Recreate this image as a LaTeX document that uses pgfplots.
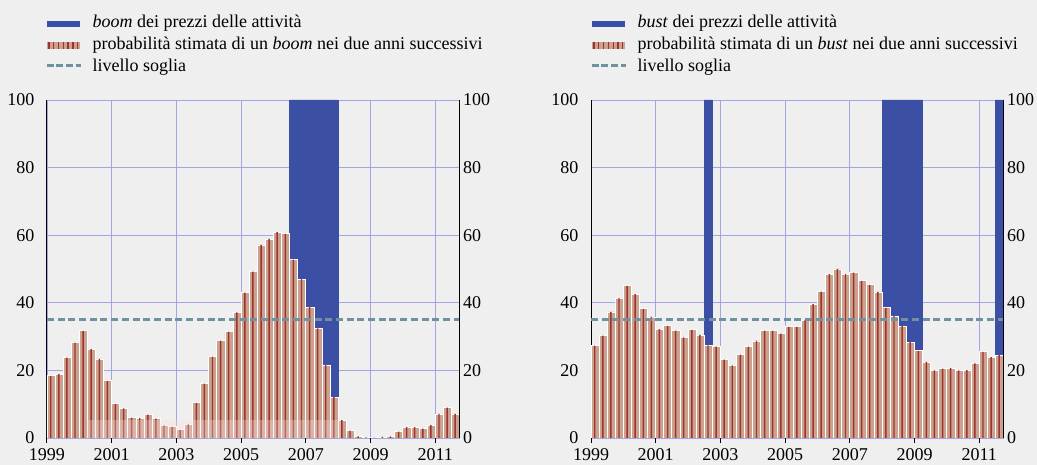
\documentclass[border=0pt]{standalone}
\usepackage{fontspec}
\setmainfont{Liberation Serif}
\usepackage{pgfplots}
\usepackage{pgfplotstable}
\pgfplotsset{compat=1.18}
\definecolor{bgc}{RGB}{239,239,239}
\definecolor{gridc}{RGB}{162,166,224}
\definecolor{bluec}{RGB}{59,80,165}
\definecolor{tanc}{RGB}{203,162,145}
\definecolor{redc}{RGB}{158,52,40}
\definecolor{threshc}{RGB}{112,145,160}
\definecolor{ghostc}{RGB}{250,222,222}

\pgfplotstableread{
x y
1999.125 18.4
1999.375 18.9
1999.625 23.8
1999.875 28.2
2000.125 31.7
2000.375 26.3
2000.625 23.4
2000.875 16.9
2001.125 10.1
2001.375 8.8
2001.625 6.0
2001.875 5.9
2002.125 6.9
2002.375 5.7
2002.625 3.7
2002.875 3.3
2003.125 2.4
2003.375 4.0
2003.625 10.4
2003.875 16.1
2004.125 24.1
2004.375 28.8
2004.625 31.5
2004.875 37.2
2005.125 43.0
2005.375 49.2
2005.625 57.1
2005.875 58.9
2006.125 60.9
2006.375 60.4
2006.625 52.8
2006.875 47.0
2007.125 38.7
2007.375 32.4
2007.625 21.6
2007.875 12.1
2008.125 5.3
2008.375 2.2
2008.625 0.5
2008.875 0.2
2009.125 0.1
2009.375 0.3
2009.625 0.5
2009.875 1.9
2010.125 3.2
2010.375 3.2
2010.625 2.8
2010.875 3.8
2011.125 7.1
2011.375 9.0
2011.625 7.1
}\boomprob

\pgfplotstableread{
x y
2006.625 100
2006.875 100
2007.125 100
2007.375 100
2007.625 100
2007.875 100
}\boomevent

\pgfplotstableread{
x y
1999.125 27.3
1999.375 30.3
1999.625 37.3
1999.875 41.4
2000.125 45.0
2000.375 42.6
2000.625 38.2
2000.875 35.8
2001.125 32.2
2001.375 33.2
2001.625 31.8
2001.875 29.8
2002.125 32.0
2002.375 30.5
2002.625 27.4
2002.875 27.0
2003.125 23.2
2003.375 21.5
2003.625 24.7
2003.875 27.0
2004.125 28.7
2004.375 31.8
2004.625 31.8
2004.875 30.9
2005.125 32.9
2005.375 32.9
2005.625 34.9
2005.875 39.6
2006.125 43.3
2006.375 48.5
2006.625 50.0
2006.875 48.5
2007.125 48.9
2007.375 46.5
2007.625 45.3
2007.875 43.2
2008.125 38.5
2008.375 36.1
2008.625 33.1
2008.875 28.4
2009.125 25.8
2009.375 22.5
2009.625 20.0
2009.875 20.5
2010.125 20.7
2010.375 20.0
2010.625 20.1
2010.875 22.1
2011.125 25.5
2011.375 23.9
2011.625 24.5
}\bustprob

\pgfplotstableread{
x y
2002.625 100
2008.125 100
2008.375 100
2008.625 100
2008.875 100
2009.125 100
2011.625 100
}\bustevent

\pgfplotsset{
  panel/.style={
    scale only axis, width=412.5pt, height=338pt, anchor=south west,
    xmin=1999, xmax=2011.75, ymin=0, ymax=100,
    xtick={1999,2001,...,2011}, ytick={0,20,...,100},
    /pgf/number format/assume math mode=true,
    x tick label style={/pgf/number format/1000 sep=, yshift=-2pt},
    tick label style={font=\fontsize{18}{20}\selectfont},
    axis line style={-, black, line width=1pt},
    ytick style={draw=none},
  },
  mainpanel/.style={panel,
    axis x line*=bottom, axis y line*=left,
    grid=major, grid style={gridc, line width=0.9pt},
    xtick style={black, line width=1pt},
    tick align=outside, major tick length=5pt,
    yticklabel style={xshift=-4pt},
    legend cell align=left,
    legend style={anchor=north west, draw=none, fill=none,
      font=\fontsize{18}{21}\selectfont, row sep=0pt, inner sep=0pt,
      column sep=0pt,
      nodes={inner sep=0pt, text height=14.5pt, text depth=7.5pt}},
  },
  rightpanel/.style={panel, axis y line*=right, hide x axis},
  evt/.style={ybar, bar shift=0pt, bar width=0.25, fill=bluec, draw=bluec, line width=0.3pt,
    legend image code/.code={\fill[bluec, draw=none] (0pt,-3.5pt) rectangle (33pt,3pt); \path[draw=none,fill=none] (0pt,0pt) -- (46pt,0pt);}},
  prob/.style={ybar, bar shift=0pt, bar width=0.25, fill=tanc, draw=white, line width=0.8pt,
    legend image code/.code={\fill[tanc, draw=none] (0pt,-3.5pt) rectangle (33pt,3.8pt);
      \foreach \i in {0,...,6} {\fill[redc, draw=none] ({1.6pt+\i*4.8pt},-3.5pt) rectangle ({2.9pt+\i*4.8pt},3.8pt);}
      \path[draw=none,fill=none] (0pt,0pt) -- (46pt,0pt);}},
  stripe/.style={ybar, bar shift=-0.3pt, bar width=0.045, fill=redc, draw=none, forget plot},
  thresh/.style={threshc, line width=3.3pt, dash pattern=on 7pt off 3.7pt,
    legend image code/.code={\draw[threshc, line width=3pt, dash pattern=on 7pt off 2.7pt] (0pt,2pt) -- (34pt,2pt); \path[draw=none,fill=none] (0pt,0pt) -- (46pt,0pt);}},
}

\begin{document}
\begin{tikzpicture}
\useasboundingbox (0,0) rectangle (1037pt,465pt);
\fill[bgc] (0,0) rectangle (1037pt,465pt);

% ---------- left panel: boom ----------
\begin{axis}[mainpanel, at={(47pt,27pt)},
  legend style={at={(-0.00485,1.2589)}}]
\addplot[evt] table[x=x,y=y] {\boomevent};
\addlegendentry{\textit{boom} dei prezzi delle attività}
\addplot[prob] table[x=x,y=y] {\boomprob};
\addlegendentry{probabilità stimata di un \textit{boom} nei due anni successivi}
\addplot[stripe] table[x=x,y=y] {\boomprob};
\addplot[fill=ghostc, fill opacity=0.3, draw=none, forget plot] coordinates {(2000.25,5.3) (2008.1,5.3)} \closedcycle;
\addplot[thresh] coordinates {(1999,35) (2011.75,35)};
\addlegendentry{livello soglia}
\end{axis}
\begin{axis}[rightpanel, at={(47pt,27pt)}]
\addplot[draw=none] coordinates {(2000,0)};
\end{axis}

% ---------- right panel: bust ----------
\begin{axis}[mainpanel, at={(591pt,27pt)},
  legend style={at={(-0.0024,1.2589)}}]
\addplot[evt] table[x=x,y=y] {\bustevent};
\addlegendentry{\textit{bust} dei prezzi delle attività}
\addplot[prob] table[x=x,y=y] {\bustprob};
\addlegendentry{probabilità stimata di un \textit{bust} nei due anni successivi}
\addplot[stripe] table[x=x,y=y] {\bustprob};
\addplot[thresh] coordinates {(1999,35) (2011.75,35)};
\addlegendentry{livello soglia}
\end{axis}
\begin{axis}[rightpanel, at={(591pt,27pt)}]
\addplot[draw=none] coordinates {(2000,0)};
\end{axis}
\end{tikzpicture}
\end{document}
